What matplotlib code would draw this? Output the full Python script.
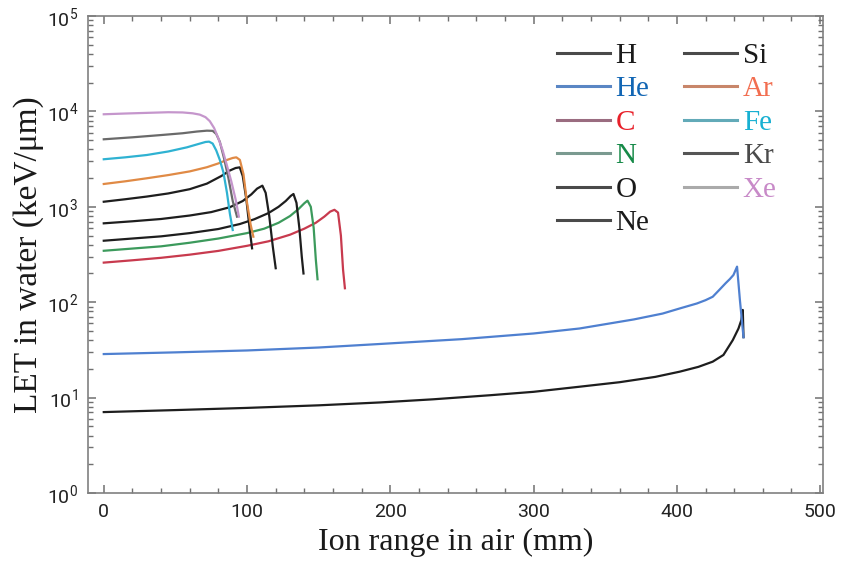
import math
import matplotlib
matplotlib.use("Agg")
import matplotlib.pyplot as plt
from matplotlib.lines import Line2D
from matplotlib.ticker import LogLocator, MultipleLocator, FuncFormatter, NullFormatter

plt.rcParams['font.family'] = ['Roboto', 'DejaVu Sans']
plt.rcParams['mathtext.fontset'] = 'custom'
plt.rcParams['mathtext.rm'] = 'Roboto'
plt.rcParams['mathtext.it'] = 'Roboto:italic'

# range in air (mm) vs LET in water (keV/um) for each ion
h_x = [0, 50, 100, 150, 193, 230, 270, 300, 332, 360, 385, 402, 415, 425, 432.5, 439, 443, 445, 446, 446.5]
h_y = [7.05, 7.4, 7.8, 8.3, 8.9, 9.6, 10.6, 11.5, 13.0, 14.5, 16.5, 18.7, 21, 23.8, 28, 40, 53, 65, 83, 43]

he_x = [0, 50, 100, 150, 193, 250, 300, 332, 370, 390, 402, 414, 420, 425, 429.5, 434, 437, 439.5, 442, 444, 446.5]
he_y = [28.6, 29.8, 31.2, 33.5, 36.5, 41, 47, 53, 66, 76, 86, 97, 105, 114, 134, 158, 175, 193, 236, 105, 43]

c_x = [0, 20, 40, 60, 80, 100, 115, 130, 140, 148, 154, 158, 161, 163.5, 165.5, 167, 168.3]
c_y = [260, 275, 292, 315, 345, 390, 435, 510, 590, 680, 790, 890, 930, 870, 500, 220, 140]

n_x = [0, 20, 40, 60, 80, 100, 112, 122, 130, 136, 140, 142.2, 144.5, 146.5, 148, 149.2]
n_y = [346, 365, 385, 420, 465, 530, 590, 680, 800, 950, 1090, 1160, 1000, 600, 280, 174]

o_x = [0, 20, 40, 60, 80, 95, 105, 115, 122, 127, 130.5, 132.4, 134.5, 136.5, 138.2, 139.4]
o_y = [441, 465, 490, 530, 585, 660, 740, 860, 1000, 1150, 1300, 1362, 1100, 600, 300, 200]

ne_x = [0, 20, 40, 60, 75, 88, 97, 103, 107, 110.7, 113, 115.5, 118, 120]
ne_y = [671, 705, 745, 810, 880, 990, 1150, 1350, 1550, 1665, 1400, 800, 380, 227]

si_x = [0, 15, 30, 45, 60, 72, 82, 88, 92, 94.9, 97, 99.5, 101.9, 103.5]
si_y = [1130, 1200, 1280, 1380, 1530, 1750, 2100, 2400, 2550, 2592, 2100, 1200, 571, 367]

ar_x = [0, 15, 30, 45, 60, 72, 80, 86, 90, 92.5, 95, 97.5, 100, 102.5, 104.4]
ar_y = [1734, 1850, 1990, 2150, 2350, 2600, 2850, 3100, 3250, 3300, 3100, 2200, 1100, 650, 486]

fe_x = [0, 15, 30, 45, 58, 66, 71, 73.5, 76, 78.5, 81, 83.5, 86, 88, 90]
fe_y = [3150, 3300, 3490, 3800, 4200, 4550, 4780, 4818, 4600, 3900, 3100, 2300, 1400, 850, 571]

kr_x = [0, 20, 40, 55, 65, 72, 76, 78.5, 81, 84, 87, 90, 93]
kr_y = [5100, 5350, 5650, 5900, 6150, 6280, 6250, 5800, 4800, 3200, 2000, 1150, 788]

xe_x = [0, 15, 30, 45, 55, 62, 67, 71, 74, 77, 80, 83, 86, 89, 92, 94.3]
xe_y = [9330, 9500, 9650, 9800, 9750, 9550, 9250, 8700, 7900, 6700, 5200, 3900, 2700, 1850, 1200, 788]

ions = ['H', 'He', 'C', 'N', 'O', 'Ne', 'Si', 'Ar', 'Fe', 'Kr', 'Xe']
xs = [h_x, he_x, c_x, n_x, o_x, ne_x, si_x, ar_x, fe_x, kr_x, xe_x]
ys = [h_y, he_y, c_y, n_y, o_y, ne_y, si_y, ar_y, fe_y, kr_y, xe_y]

curve_colors = ['#1e1e1e', '#4f80d0', '#c83a4e', '#3c9a5c', '#1e1e1e', '#1e1e1e',
                '#1e1e1e', '#e08a45', '#2fb2d2', '#6a6a6a', '#c596cc']
key_colors = ['#4a4a4a', '#5a86c4', '#9a6c80', '#7a9a90', '#4a4a4a', '#4a4a4a',
              '#4a4a4a', '#c8866a', '#62aab8', '#555555', '#aaaaaa']
text_colors = ['#1a1a1a', '#1266b4', '#e8202a', '#168a48', '#1a1a1a', '#1a1a1a',
               '#1a1a1a', '#f26e50', '#18b0d2', '#4a4a4a', '#c88ac8']

fig = plt.figure(figsize=(8.43, 5.61), dpi=100)
ax = fig.add_axes([0.1044, 0.1212, 0.8719, 0.8503])

for x, y, col in zip(xs, ys, curve_colors):
    ax.plot(x, y, color=col, linewidth=1.6, solid_joinstyle='round')

ax.set_yscale('log')
ax.set_xlim(-11, 502)
ax.set_ylim(1, 1e5)

ax.xaxis.set_major_locator(MultipleLocator(100))
ax.xaxis.set_minor_locator(MultipleLocator(20))
ax.yaxis.set_major_locator(LogLocator(base=10, numticks=10))
ax.yaxis.set_minor_locator(LogLocator(base=10, subs=range(2, 10), numticks=10))
ax.yaxis.set_major_formatter(FuncFormatter(lambda v, p: r'$\mathregular{10^{%d}}$' % round(math.log10(v))))
ax.yaxis.set_minor_formatter(NullFormatter())

for s in ax.spines.values():
    s.set_color('#808080')
    s.set_linewidth(1.2)
ax.tick_params(which='both', direction='in', top=True, right=True, color='#707070')
ax.tick_params(which='major', length=6, width=1.1)
ax.tick_params(which='minor', length=3.5, width=1.0)
ax.tick_params(axis='both', labelsize=14, labelcolor='#222222', pad=7)

ax.set_xlabel('Ion range in air (mm)', family='Liberation Serif',
              fontsize=23, color='#1a1a1a', labelpad=5)
ax.set_ylabel('LET in water (keV/\u03bcm)', family='Liberation Serif',
              fontsize=24, color='#1a1a1a', labelpad=2)

handles = [Line2D([], [], color=c, linewidth=2.2) for c in key_colors]
leg = ax.legend(handles, ions, ncol=2, loc='upper left',
                bbox_to_anchor=(0.661, 0.924), bbox_transform=fig.transFigure,
                frameon=False, borderpad=0, borderaxespad=0, handlelength=1.8,
                handletextpad=0.2, columnspacing=1.2, labelspacing=0.24,
                prop={'family': 'Liberation Serif', 'size': 21})
for t, c in zip(leg.get_texts(), text_colors):
    t.set_color(c)

fig.savefig('out.png', dpi=100)
